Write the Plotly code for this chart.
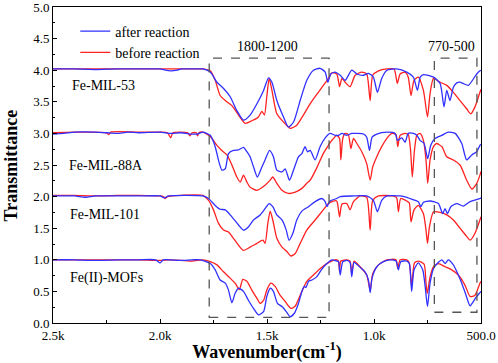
import plotly.graph_objects as go

# ---- data (wavenumber cm-1, transmittance) ----
mil53_after = [(2500,4.02),(2400,4.02),(2300,4.01),(2200,4.02),(2100,4.02),(2000,4.02),(1975,4.0),(1950,3.99),(1920,4.0),(1900,4.02),(1850,4.02),(1800,4.02),
    (1765,3.97),(1734,3.81),(1703,3.71),(1672,3.58),(1641,3.36),(1610,3.21),(1579,3.29),(1547,3.47),(1516,3.68),(1493,3.88),(1477,3.81),(1454,3.52),
    (1423,3.26),(1400,3.10),(1376,3.18),(1345,3.52),(1314,3.84),(1283,4.0),(1252,4.03),(1228,3.97),(1216,3.81),(1202,3.94),(1182,3.97),(1158,3.92),
    (1135,3.84),(1104,4.0),(1080,3.94),(1049,3.92),(1026,3.95),(1003,3.89),(984,3.65),(964,3.87),(940,4.0),(894,4.02),(847,3.97),(816,3.89),
    (797,3.68),(784,3.89),(769,3.93),(722,3.89),(691,3.79),(673,3.42),(660,3.68),(645,3.52),(629,3.73),(613,3.80),(598,3.81),(583,3.79),
    (559,3.76),(520,3.94),(505,3.99),(500,4.0)]
mil53_before = [(2500,4.02),(2400,4.02),(2300,4.02),(2200,4.02),(2100,4.02),(2000,4.02),(1900,4.02),(1800,4.02),
    (1765,3.99),(1742,3.84),(1719,3.60),(1695,3.52),(1664,3.44),(1633,3.29),(1602,3.16),(1571,3.20),(1540,3.26),(1524,3.35),(1512,3.29),
    (1501,3.58),(1490,3.87),(1477,3.68),(1454,3.31),(1423,3.18),(1392,3.08),(1361,3.13),(1330,3.29),(1298,3.47),(1260,3.65),(1228,3.80),
    (1213,3.87),(1197,3.96),(1174,3.94),(1161,3.74),(1150,3.87),(1135,3.81),(1112,3.74),(1088,3.92),(1057,3.97),(1034,3.94),(1018,3.52),
    (1006,3.92),(979,3.99),(940,4.02),(906,4.02),(891,3.79),(878,3.94),(855,3.97),(840,3.89),(827,3.60),(813,3.84),(793,3.89),(769,3.68),
    (750,3.26),(738,3.63),(722,3.87),(691,3.81),(660,3.76),(629,3.65),(598,3.52),(567,3.39),(548,3.31),(528,3.42),(505,3.65),(500,3.70)]
mil88a_after = [(2500,2.99),(2450,3.0),(2400,3.02),(2300,3.02),(2250,3.01),(2200,3.0),(2150,3.02),(2100,3.01),(2000,3.02),(1950,3.0),(1900,3.01),
    (1860,2.99),(1825,2.99),(1800,3.02),(1765,2.97),(1742,2.79),(1727,2.58),(1711,2.42),(1695,2.44),(1680,2.68),(1657,2.73),(1633,2.74),
    (1610,2.78),(1594,2.71),(1579,2.63),(1563,2.47),(1545,2.31),(1524,2.47),(1509,2.58),(1488,2.73),(1470,2.63),(1454,2.42),(1430,2.39),
    (1415,2.44),(1395,2.26),(1376,2.42),(1353,2.63),(1337,2.68),(1322,2.79),(1311,2.71),(1298,2.73),(1275,2.58),(1252,2.79),(1228,2.93),
    (1205,3.0),(1182,2.97),(1166,2.97),(1150,3.0),(1127,2.97),(1104,3.0),(1080,3.0),(1049,2.99),(1034,2.94),(1021,2.73),(1009,2.94),
    (987,2.99),(940,3.02),(901,3.0),(891,2.89),(870,2.93),(855,2.86),(840,3.0),(816,3.0),(800,2.97),(785,2.89),(766,2.84),(749,2.60),
    (735,2.81),(715,2.92),(683,2.97),(653,3.02),(621,3.0),(590,2.84),(567,2.58),(543,2.66),(520,2.71),(505,2.81),(500,2.83)]
mil88a_before = [(2500,3.01),(2400,3.02),(2250,3.01),(2240,2.98),(2230,3.02),(2100,3.02),(2000,3.02),(1965,3.01),(1950,2.93),(1940,3.01),
    (1870,3.01),(1860,2.96),(1850,3.01),(1830,3.01),(1825,2.96),(1818,3.01),(1800,3.02),(1765,2.95),(1734,2.81),(1711,2.73),(1687,2.66),
    (1664,2.50),(1641,2.31),(1625,2.23),(1610,2.34),(1594,2.23),(1579,2.15),(1547,2.10),(1509,2.18),(1485,2.26),(1473,2.31),(1454,2.21),
    (1430,2.10),(1400,2.05),(1368,2.07),(1337,2.13),(1314,2.21),(1298,2.26),(1268,2.45),(1237,2.68),(1213,2.81),(1197,2.89),(1174,2.97),
    (1161,2.92),(1155,2.58),(1146,2.92),(1135,3.0),(1120,2.98),(1108,2.76),(1096,2.92),(1080,2.84),(1057,2.71),(1034,2.52),(1018,2.26),
    (1006,2.47),(987,2.63),(964,2.79),(940,2.92),(917,3.0),(897,2.98),(889,2.79),(878,2.97),(855,3.0),(840,2.98),(829,2.73),(821,2.31),
    (811,2.73),(800,2.97),(785,3.0),(769,2.89),(757,2.58),(749,2.21),(738,2.58),(722,2.79),(707,2.84),(683,2.79),(660,2.63),(629,2.58),
    (598,2.50),(567,2.26),(543,2.12),(520,2.21),(505,2.34),(500,2.40)]
mil101_after = [(2500,2.01),(2400,2.01),(2350,1.99),(2300,2.01),(2200,2.01),(2100,2.01),(2000,2.01),(1980,1.98),(1960,2.01),(1800,2.01),
    (1773,1.97),(1742,1.86),(1719,1.80),(1695,1.79),(1664,1.68),(1633,1.55),(1610,1.47),(1587,1.52),(1563,1.63),(1532,1.71),(1509,1.81),
    (1490,1.89),(1473,1.84),(1454,1.71),(1430,1.63),(1410,1.47),(1397,1.31),(1379,1.42),(1361,1.63),(1337,1.77),(1306,1.84),(1275,1.92),
    (1244,1.97),(1228,1.92),(1220,1.84),(1205,1.93),(1174,1.97),(1158,2.0),(1096,2.01),(1034,2.01),(1003,1.94),(984,1.76),(964,1.94),
    (940,2.01),(878,2.01),(832,1.97),(793,1.92),(781,1.84),(769,1.91),(738,1.93),(699,1.89),(679,1.73),(668,1.81),(657,1.73),(641,1.84),
    (613,1.89),(583,1.85),(551,1.92),(505,1.97),(500,1.98)]
mil101_before = [(2500,2.02),(2400,2.02),(2300,2.01),(2200,2.02),(2100,2.02),(2000,2.01),(1985,2.0),(1975,1.97),(1965,2.0),(1900,2.02),(1800,2.02),
    (1773,1.94),(1750,1.79),(1727,1.58),(1703,1.47),(1680,1.44),(1657,1.34),(1633,1.23),(1610,1.15),(1579,1.20),(1547,1.26),(1519,1.31),
    (1509,1.26),(1496,1.58),(1485,1.77),(1473,1.63),(1454,1.34),(1430,1.20),(1407,1.13),(1388,1.06),(1368,1.10),(1345,1.26),(1314,1.47),
    (1275,1.63),(1237,1.79),(1213,1.89),(1190,1.93),(1174,1.93),(1161,1.68),(1150,1.88),(1127,1.89),(1112,1.79),(1096,1.92),(1065,2.01),
    (1034,1.99),(1018,1.47),(1006,1.94),(979,2.01),(909,2.01),(894,1.98),(886,1.76),(875,1.97),(847,1.93),(835,1.90),(827,1.60),(813,1.79),
    (793,1.86),(769,1.73),(757,1.47),(750,1.26),(741,1.52),(722,1.76),(691,1.75),(660,1.71),(629,1.63),(598,1.50),(567,1.37),(551,1.31),
    (528,1.42),(505,1.63),(500,1.68)]
fe2_after = [(2500,1.0),(2400,1.0),(2300,0.99),(2200,1.0),(2100,1.0),(2020,1.0),(2000,0.95),(1985,1.0),(1900,0.99),(1850,1.0),(1812,1.0),
    (1765,0.94),(1742,0.84),(1719,0.68),(1695,0.63),(1680,0.52),(1664,0.32),(1649,0.47),(1633,0.55),(1610,0.50),(1587,0.36),(1563,0.23),
    (1540,0.13),(1516,0.18),(1501,0.42),(1485,0.55),(1470,0.50),(1451,0.31),(1430,0.26),(1410,0.18),(1392,0.10),(1373,0.15),(1353,0.31),
    (1337,0.50),(1326,0.58),(1318,0.56),(1306,0.66),(1290,0.68),(1268,0.73),(1244,0.85),(1220,0.94),(1197,1.0),(1174,0.98),(1166,0.97),
    (1158,0.76),(1146,0.97),(1127,0.99),(1112,0.96),(1104,0.73),(1093,0.96),(1065,0.88),(1042,0.81),(1026,0.68),(1018,0.48),(1009,0.71),
    (987,0.89),(956,0.97),(925,1.0),(897,0.98),(886,0.84),(875,0.97),(847,0.98),(835,0.94),(824,0.50),(813,0.84),(793,0.95),(772,0.84),
    (761,0.58),(750,0.26),(738,0.63),(722,0.86),(699,0.96),(683,1.0),(668,0.94),(653,1.0),(629,0.92),(606,0.76),(590,0.63),(570,0.44),
    (551,0.27),(536,0.34),(520,0.42),(505,0.48),(500,0.50)]
fe2_before = [(2500,1.0),(2400,1.0),(2300,1.0),(2200,1.0),(2100,1.0),(2000,0.99),(1950,1.0),(1850,0.98),(1800,1.0),(1765,0.97),(1734,0.92),
    (1703,0.81),(1672,0.71),(1649,0.63),(1629,0.53),(1613,0.69),(1594,0.66),(1571,0.52),(1547,0.39),(1532,0.31),(1516,0.36),(1501,0.52),
    (1482,0.63),(1462,0.58),(1439,0.44),(1415,0.34),(1388,0.23),(1368,0.27),(1345,0.44),(1314,0.66),(1283,0.76),(1252,0.86),(1220,0.94),
    (1190,0.99),(1174,1.0),(1166,0.98),(1161,0.81),(1155,0.98),(1127,1.0),(1112,0.98),(1104,0.78),(1093,0.98),(1065,0.89),(1034,0.76),
    (1018,0.52),(1006,0.78),(979,0.92),(940,1.0),(897,1.0),(889,0.86),(878,1.0),(847,1.0),(835,0.95),(824,0.58),(811,0.95),(793,0.98),
    (766,0.93),(757,0.63),(751,0.47),(738,0.73),(722,0.89),(699,0.94),(668,0.89),(637,0.84),(606,0.76),(575,0.60),(551,0.42),(528,0.44),
    (505,0.63),(500,0.66)]

sample_names = ["Fe-MIL-53", "Fe-MIL-88A", "Fe-MIL-101", "Fe(II)-MOFs"]
sample_label_pos = [(2419, 3.76), (2435, 2.49), (2428, 1.71), (2428, 0.71)]
x_tickvals = [2500, 2000, 1500, 1000, 500]
x_ticktext = ["2.5k", "2.0k", "1.5k", "1.0k", "500.0"]
regions = [("1800-1200", 1770, 1210, 0.09, 4.19, 1500), ("770-500", 718, 519, 0.17, 4.19, 640)]

BLUE = "#3030ff"
RED = "#ff2020"
FONT = "Liberation Serif"

fig = go.Figure()
pairs = [(mil53_after, mil53_before), (mil88a_after, mil88a_before),
         (mil101_after, mil101_before), (fe2_after, fe2_before)]
for i, (aft, bef) in enumerate(pairs):
    fig.add_trace(go.Scatter(x=[p[0] for p in bef], y=[p[1] for p in bef], mode="lines",
                             line=dict(color=RED, width=1.3, shape="spline", smoothing=0.6),
                             name="before reaction", showlegend=(i == 0), legendrank=2))
    fig.add_trace(go.Scatter(x=[p[0] for p in aft], y=[p[1] for p in aft], mode="lines",
                             line=dict(color=BLUE, width=1.3, shape="spline", smoothing=0.6),
                             name="after reaction", showlegend=(i == 0), legendrank=1))

for label, x0, x1, y0, y1, lx in regions:
    fig.add_shape(type="rect", x0=x0, x1=x1, y0=y0, y1=y1, xref="x", yref="y",
                  line=dict(color="#555555", width=1.3, dash="dash"))
    fig.add_annotation(x=lx, y=4.37, text=label, showarrow=False,
                       font=dict(family=FONT, size=14, color="black"))

for name, (lx, ly) in zip(sample_names, sample_label_pos):
    fig.add_annotation(x=lx, y=ly, text=name, showarrow=False, xanchor="left",
                       font=dict(family=FONT, size=14, color="black"))

# y-axis title placed as rotated text close to the left edge
fig.add_annotation(x=-0.097, y=0.5, xref="paper", yref="paper", text="<b>Transmittance</b>",
                   textangle=-90, showarrow=False, xanchor="center", yanchor="middle",
                   font=dict(family=FONT, size=18, color="black"))

fig.update_layout(
    width=498, height=363,
    margin=dict(l=53, r=17, t=7, b=40),
    paper_bgcolor="white", plot_bgcolor="white",
    font=dict(family=FONT, size=13, color="black"),
    legend=dict(x=0.052, y=0.973, xanchor="left", yanchor="top", bgcolor="rgba(0,0,0,0)",
                font=dict(family=FONT, size=14), tracegroupgap=0, traceorder="normal"),
)
fig.update_xaxes(range=[2500, 500], tickvals=x_tickvals, ticktext=x_ticktext, automargin=False,
                 ticklabeloverflow="allow",
                 showline=True, linecolor="black", linewidth=1, mirror=True,
                 ticks="inside", ticklen=4, tickcolor="black", showgrid=False, zeroline=False,
                 minor=dict(tickvals=[2250, 1750, 1250, 750], ticks="inside", ticklen=3, tickcolor="black"),
                 tickfont=dict(family=FONT, size=13),
                 title=dict(text="<b>Wavenumber(cm<sup>-1</sup>)</b>", font=dict(family=FONT, size=18), standoff=1))
fig.update_yaxes(range=[0, 5], dtick=0.5, tickformat=".1f", automargin=False,
                 ticklabeloverflow="allow",
                 showline=True, linecolor="black", linewidth=1, mirror=True,
                 ticks="inside", ticklen=4, tickcolor="black", showgrid=False, zeroline=False,
                 minor=dict(dtick=0.25, ticks="inside", ticklen=2, tickcolor="black"),
                 tickfont=dict(family=FONT, size=13))

fig.write_html("out.html", config={"displayModeBar": False},
               post_script="document.body.style.margin='0';document.body.style.overflow='hidden';")
